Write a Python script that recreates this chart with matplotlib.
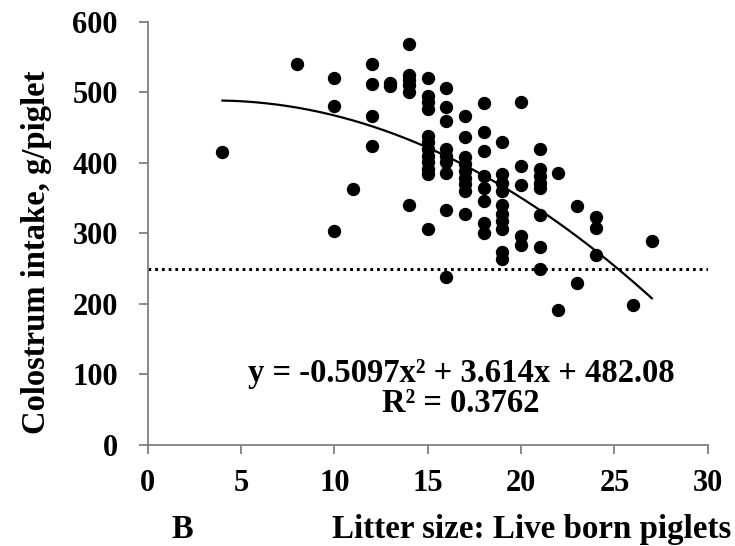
import numpy as np
import matplotlib
matplotlib.use("Agg")
import matplotlib.pyplot as plt

# datos: tamano de camada (nacidos vivos) y calostro por lechon
camada = [4, 8, 10, 10, 10, 11, 12, 12, 12, 12, 13, 13,
          14, 14, 14, 14, 14, 14,
          15, 15, 15, 15, 15, 15, 15, 15, 15, 15, 15, 15,
          16, 16, 16, 16, 16, 16, 16, 16, 16,
          17, 17, 17, 17, 17, 17, 17, 17, 17,
          18, 18, 18, 18, 18, 18, 18, 18,
          19, 19, 19, 19, 19, 19, 19, 19, 19, 19,
          20, 20, 20, 20, 20,
          21, 21, 21, 21, 21, 21, 21, 21,
          22, 22, 23, 23, 24, 24, 24, 26, 27]
calostro = [415, 540, 520, 481, 303, 363, 540, 512, 466, 424, 513, 509,
            569, 525, 517, 510, 501, 340,
            521, 495, 486, 477, 438, 429, 420, 410, 401, 391, 384, 306,
            506, 479, 460, 420, 410, 401, 386, 333, 238,
            466, 437, 408, 398, 389, 379, 370, 360, 328,
            485, 444, 417, 382, 365, 346, 315, 301,
            429, 384, 372, 360, 340, 327, 318, 306, 274, 264,
            486, 395, 369, 296, 283,
            420, 391, 382, 372, 365, 326, 281, 249,
            385, 192, 339, 229, 323, 307, 270, 198, 289]

# ajuste polinomico publicado y umbral
coef = [-0.5097, 3.614, 482.08]
umbral = 250

plt.rcParams['font.family'] = ['Liberation Serif', 'DejaVu Serif']
plt.rcParams['font.weight'] = 'bold'

fig = plt.figure(figsize=(7.35, 5.46), dpi=100)
ax = fig.add_axes([0.201, 0.185, 0.762, 0.775])

ax.plot(camada, calostro, 'o', color='black', markersize=8.6, zorder=3)

xs = np.linspace(min(camada), max(camada), 200)
ax.plot(xs, np.polyval(coef, xs), color='black', lw=1.6)

ax.plot([0, 30], [umbral, umbral], color='black', lw=2.2, linestyle=(0, (0.9, 1.3)))

ax.text(16.77, 90, "y = -0.5097x² + 3.614x + 482.08", ha='center', va='baseline',
        fontsize=23.5, fontweight='bold')
ax.text(16.77, 47, "R² = 0.3762", ha='center', va='baseline',
        fontsize=23.5, fontweight='bold')

ax.set_xlim(0, 30)
ax.set_ylim(0, 600)
ax.set_xticks([0, 5, 10, 15, 20, 25, 30])
ax.set_yticks([0, 100, 200, 300, 400, 500, 600])

for lado in ['top', 'right']:
    ax.spines[lado].set_visible(False)
for lado in ['left', 'bottom']:
    ax.spines[lado].set_color('#7f7f7f')
    ax.spines[lado].set_linewidth(1.3)

ax.tick_params(axis='both', colors='#7f7f7f', labelcolor='black', length=6.5, width=1.3,
               labelsize=22)
ax.tick_params(axis='y', pad=15)
ax.tick_params(axis='x', pad=11)
for t in ax.get_xticklabels() + ax.get_yticklabels():
    t.set_fontweight('bold')

fig.text(0.05, 0.538, "Colostrum intake, g/piglet", rotation=90, ha='center', va='center',
         fontsize=23.5, fontweight='bold')
fig.text(0.248, 0.0147, "B", ha='center', va='baseline', fontsize=23.5, fontweight='bold')
fig.text(0.995, 0.0147, "Litter size: Live born piglets", ha='right', va='baseline',
         fontsize=23.8, fontweight='bold')

fig.savefig("out.png", dpi=100)
